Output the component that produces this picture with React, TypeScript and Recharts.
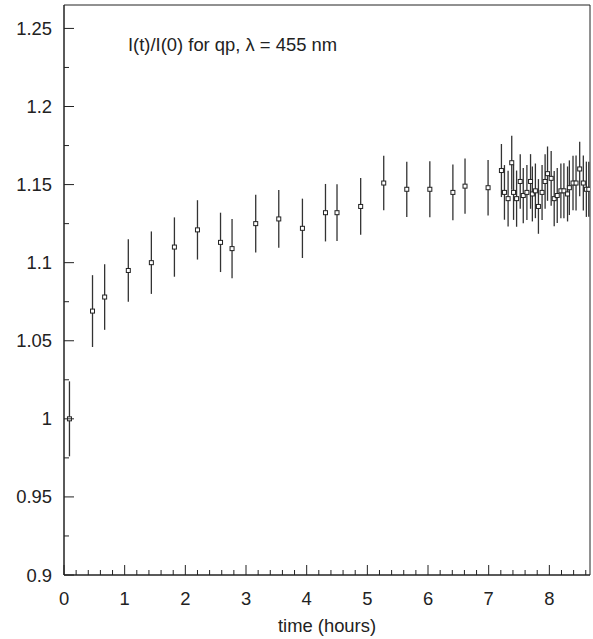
import React from 'react';
import {
  ScatterChart,
  Scatter,
  XAxis,
  YAxis,
  ErrorBar,
  ReferenceArea,
} from 'recharts';

// time (hours) of each measurement
const times = [
  0.09, 0.47, 0.67, 1.06, 1.44, 1.82, 2.2, 2.58, 2.77, 3.16,
  3.54, 3.93, 4.31, 4.5, 4.89, 5.27, 5.65, 6.03, 6.41, 6.61,
  6.99, 7.21, 7.26, 7.32, 7.38, 7.41, 7.46, 7.52, 7.57, 7.63,
  7.69, 7.72, 7.77, 7.82, 7.88, 7.93, 7.97, 8.03, 8.08, 8.13,
  8.19, 8.24, 8.3, 8.33, 8.39, 8.44, 8.5, 8.56, 8.61, 8.65,
];

// I(t)/I(0)
const ratios = [
  1.0, 1.069, 1.078, 1.095, 1.1, 1.11, 1.121, 1.113, 1.109, 1.125,
  1.128, 1.122, 1.132, 1.132, 1.136, 1.151, 1.147, 1.147, 1.145, 1.149,
  1.148, 1.159, 1.145, 1.141, 1.164, 1.145, 1.141, 1.152, 1.143, 1.145,
  1.152, 1.144, 1.146, 1.136, 1.145, 1.152, 1.157, 1.154, 1.141, 1.143,
  1.146, 1.146, 1.144, 1.148, 1.151, 1.151, 1.16, 1.151, 1.147, 1.147,
];

// half length of the error bars
const errors = [
  0.024, 0.023, 0.021, 0.02, 0.02, 0.019, 0.019, 0.019, 0.019, 0.0185,
  0.0185, 0.019, 0.0184, 0.0182, 0.0182, 0.0175, 0.0177, 0.0179, 0.0179, 0.0177,
  0.0178, 0.017, 0.0175, 0.0178, 0.0173, 0.0176, 0.018, 0.0175, 0.0177, 0.0176,
  0.0175, 0.0176, 0.0175, 0.0175, 0.0176, 0.0175, 0.0174, 0.0175, 0.0177, 0.0176,
  0.0175, 0.0176, 0.0176, 0.0175, 0.0175, 0.0176, 0.0175, 0.0176, 0.0177, 0.0176,
];

const xMajor = [0, 1, 2, 3, 4, 5, 6, 7, 8];
const xMinor = [
  0.2, 0.4, 0.6, 0.8, 1.2, 1.4, 1.6, 1.8, 2.2, 2.4, 2.6, 2.8, 3.2, 3.4, 3.6, 3.8,
  4.2, 4.4, 4.6, 4.8, 5.2, 5.4, 5.6, 5.8, 6.2, 6.4, 6.6, 6.8, 7.2, 7.4, 7.6, 7.8,
  8.2, 8.4, 8.6,
];
const yMajor = [0.9, 0.95, 1, 1.05, 1.1, 1.15, 1.2, 1.25];
const yMinor = [0.925, 0.975, 1.025, 1.075, 1.125, 1.175, 1.225];

const X_MAX = 8.67;
const Y_MIN = 0.9;
const Y_MAX = 1.265;

const FONT = '"Liberation Sans", Arial, Helvetica, sans-serif';
const FS = 18.4;
const INK = '#222';

const data = times.map((t, i) => ({ t, r: ratios[i], err: errors[i] }));

const XTick = (props: any) => {
  const { x, y, payload } = props;
  const major = xMajor.includes(payload.value);
  return (
    <g>
      <line x1={x} x2={x} y1={y} y2={y - (major ? 10 : 5)} stroke={INK} strokeWidth={1} />
      {major && (
        <text x={x} y={y + 30} textAnchor="middle" fontSize={FS} fontFamily={FONT} fill={INK}>
          {payload.value}
        </text>
      )}
    </g>
  );
};

const YTick = (props: any) => {
  const { x, y, payload } = props;
  const major = yMajor.includes(payload.value);
  return (
    <g>
      <line x1={x} x2={x + (major ? 10 : 5)} y1={y} y2={y} stroke={INK} strokeWidth={1} />
      {major && (
        <text x={x - 12} y={y + 6.5} textAnchor="end" fontSize={FS} fontFamily={FONT} fill={INK}>
          {payload.value}
        </text>
      )}
    </g>
  );
};

const Marker = (props: any) => {
  const { cx, cy } = props;
  return <rect x={cx - 2} y={cy - 2} width={4} height={4} fill="#fff" stroke={INK} strokeWidth={1} />;
};

const Title = (props: any) => {
  const { viewBox } = props;
  return (
    <text x={viewBox.x + 64} y={viewBox.y + 45.5} fontSize={FS} fontFamily={FONT} fill={INK}>
      I(t)/I(0) for qp, λ = 455 nm
    </text>
  );
};

export default function App() {
  return (
    <div style={{ width: 593, height: 639, background: '#fff' }}>
      <style>{'body { margin: 0; }'}</style>
      <ScatterChart width={593} height={639} margin={{ top: 5, right: 3, bottom: 0, left: 0 }}>
        <XAxis
          dataKey="t"
          type="number"
          domain={[0, X_MAX]}
          allowDataOverflow
          ticks={[...xMajor, ...xMinor].sort((a, b) => a - b)}
          interval={0}
          height={64}
          tickSize={0}
          tickMargin={0}
          tickLine={false}
          axisLine={{ stroke: INK }}
          tick={<XTick />}
          label={{
            value: 'time (hours)',
            position: 'insideBottom',
            offset: 7,
            style: { fontSize: FS, fontFamily: FONT, fill: INK },
          }}
        />
        <YAxis
          dataKey="r"
          type="number"
          domain={[Y_MIN, Y_MAX]}
          allowDataOverflow
          ticks={[...yMajor, ...yMinor].sort((a, b) => a - b)}
          interval={0}
          width={64}
          tickSize={0}
          tickMargin={0}
          tickLine={false}
          axisLine={{ stroke: INK }}
          tick={<YTick />}
        />
        <ReferenceArea
          x1={0}
          x2={X_MAX}
          y1={Y_MIN}
          y2={Y_MAX}
          fill="none"
          fillOpacity={0}
          stroke={INK}
          strokeWidth={1}
          label={<Title />}
        />
        <Scatter data={data} dataKey="r" shape={<Marker />} isAnimationActive={false}>
          <ErrorBar dataKey="err" direction="y" width={0} stroke="#333" strokeWidth={1.3} isAnimationActive={false} />
        </Scatter>
      </ScatterChart>
    </div>
  );
}
